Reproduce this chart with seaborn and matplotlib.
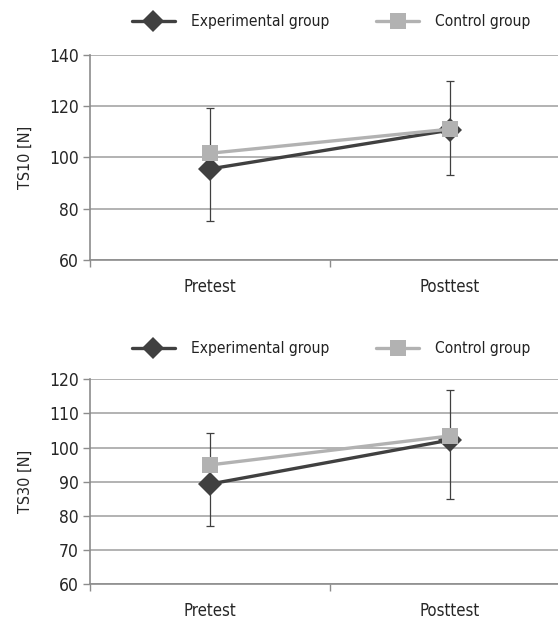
import numpy as np
import pandas as pd
import matplotlib
matplotlib.use("Agg")
import matplotlib.pyplot as plt
import seaborn as sns
from matplotlib.lines import Line2D

# values
phases = ["Pretest", "Posttest"]
groups = ["Experimental group", "Control group"]

ts10_exp = [95.5, 110.6]
ts10_ctrl = [101.6, 111.0]
ts10_err_low = [75.2, 93.1]
ts10_err_high = [119.3, 129.9]

ts30_exp = [89.3, 102.2]
ts30_ctrl = [94.9, 103.4]
ts30_err_low = [77.0, 84.8]
ts30_err_high = [104.3, 117.0]

sns.set_theme(style="white")
plt.rcParams['font.family'] = ['DejaVu Sans Condensed', 'DejaVu Sans']
plt.rcParams['font.stretch'] = 'condensed'
plt.rcParams['text.color'] = '#222222'

DARK = '#404040'
LIGHT = '#b2b2b2'
GRID = '#a6a6a6'
SPINE = '#8c8c8c'


def draw_panel(ax, exp, ctrl, lo, hi, ylim, ystep, ylabel):
    df = pd.DataFrame({
        "phase": phases * 2,
        "value": exp + ctrl,
        "group": [groups[0]] * 2 + [groups[1]] * 2,
    })
    # error bar (one per phase)
    x = np.arange(len(phases))
    mid = np.array(exp)
    yerr = [mid - np.array(lo), np.array(hi) - mid]
    ax.errorbar(x, mid, yerr=yerr, fmt='none', ecolor=DARK, elinewidth=0.9,
                capsize=2.6, capthick=0.9, zorder=2)
    sns.lineplot(data=df, x="phase", y="value", hue="group", style="group",
                 palette={groups[0]: DARK, groups[1]: LIGHT},
                 markers={groups[0]: 'D', groups[1]: 's'}, dashes=False,
                 markersize=12, markeredgewidth=0, linewidth=2.4,
                 ax=ax, legend=False, zorder=3, sort=False)

    ax.set_xlim(-0.5, 1.5)
    ax.set_ylim(*ylim)
    ax.set_yticks(np.arange(ylim[0], ylim[1] + 1, ystep))
    ax.yaxis.grid(True, color=GRID, linewidth=1.2)
    ax.set_axisbelow(True)

    # category boundaries as major ticks, labels on minor ticks
    ax.set_xticks([-0.5, 0.5, 1.5])
    ax.set_xticklabels([])
    ax.set_xticks(x, minor=True)
    ax.set_xticklabels(phases, minor=True, fontsize=12)
    ax.tick_params(axis='x', which='minor', length=0, pad=13)
    ax.tick_params(axis='x', which='major', length=5, width=1, color=SPINE,
                   direction='out', bottom=True)
    ax.tick_params(axis='y', length=5, width=1, color=SPINE, direction='out',
                   labelsize=12.5, pad=3, left=True)

    for s in ['top', 'right']:
        ax.spines[s].set_visible(False)
    for s in ['left', 'bottom']:
        ax.spines[s].set_color(SPINE)
        ax.spines[s].set_linewidth(1.2)

    ax.set_xlabel("")
    ax.set_ylabel(ylabel, fontsize=11.5, labelpad=12)


fig = plt.figure(figsize=(5.58, 6.19), dpi=100)
ax1 = fig.add_axes([90 / 558, 1 - 260 / 619, 480 / 558, 205.3 / 619])
ax2 = fig.add_axes([90 / 558, 1 - 584 / 619, 480 / 558, 204.7 / 619])

draw_panel(ax1, ts10_exp, ts10_ctrl, ts10_err_low, ts10_err_high, (60, 140), 20, "TS10 [N]")
draw_panel(ax2, ts30_exp, ts30_ctrl, ts30_err_low, ts30_err_high, (60, 120), 10, "TS30 [N]")

handles = [
    Line2D([], [], color=DARK, marker='D', markersize=11, markeredgewidth=0, linewidth=2.4),
    Line2D([], [], color=LIGHT, marker='s', markersize=11, markeredgewidth=0, linewidth=2.4),
]
for yc in [1 - 21.7 / 619, 1 - 349 / 619]:
    fig.legend(handles, groups, loc='center', bbox_to_anchor=(331 / 558, yc),
               ncol=2, frameon=False, fontsize=11.2, handlelength=2.8,
               handletextpad=1.0, columnspacing=3.0)

fig.savefig("out.png", dpi=100)
